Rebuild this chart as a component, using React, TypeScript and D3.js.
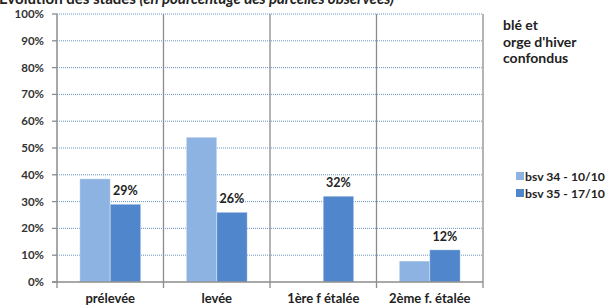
import React from "react";
import * as d3 from "d3";

const categories = ["prélevée", "levée", "1ère f étalée", "2ème f. étalée"];
const seriesNames = ["bsv 34 - 10/10", "bsv 35 - 17/10"];
const bsv34 = [38.5, 54, 0, 7.8];
const bsv35 = [29, 26, 32, 12];
const labels35 = ["29%", "26%", "32%", "12%"];
const yTicks = [0, 10, 20, 30, 40, 50, 60, 70, 80, 90, 100];
const noteLines = ["blé et", "orge d'hiver", "confondus"];
const colors = ["#8DB3E2", "#4F86CC"];

const W = 608, H = 306;
const font = "Lato, 'Open Sans', sans-serif";

export default function App() {
  const x0 = d3.scaleBand<string>().domain(categories).range([57, 483]).paddingInner(0).paddingOuter(0);
  const x1 = d3.scaleBand<number>().domain([0, 1]).range([0, x0.bandwidth()]).paddingInner(0).paddingOuter(0.75);
  const y = d3.scaleLinear().domain([0, 100]).range([282, 14]);
  const series = [bsv34, bsv35];
  return (
    <svg width={W} height={H} style={{ position: "absolute", left: 0, top: 0, background: "#fff" }} fontFamily={font}>
      <text x={-1} y={4} fontSize={14.5} fontWeight="bold" fill="#222" textLength={395} lengthAdjust="spacingAndGlyphs">
        Evolution des stades <tspan fontStyle="italic">(en pourcentage des parcelles observées)</tspan>
      </text>
      {/* gridlines */}
      {yTicks.filter(t => t > 0).map(t => (
        <line key={"g" + t} x1={57} x2={483} y1={y(t)} y2={y(t)} stroke="#4F81BD" strokeWidth={1} strokeDasharray="1,1" opacity={0.85} />
      ))}
      {/* category separators */}
      {categories.map((c, i) => i > 0 ? (
        <line key={"s" + c} x1={x0(c)!} x2={x0(c)!} y1={y(100)} y2={288} stroke="#8c8c8c" strokeWidth={1.3} />
      ) : null)}
      <line x1={483} x2={483} y1={y(100)} y2={288} stroke="#8c8c8c" strokeWidth={1.3} />
      {/* bars */}
      {categories.map((c, i) => series.map((s, k) => s[i] > 0 ? (
        <rect key={c + k} x={x0(c)! + x1(k)!} y={y(s[i])} width={x1.bandwidth()} height={y(0) - y(s[i])}
          fill={colors[k]} stroke="#ffffff" strokeOpacity={0.35} strokeWidth={1} />
      ) : null))}
      {/* labels */}
      {categories.map((c, i) => (
        <text key={"l" + c} x={x0(c)! + x1(1)! + x1.bandwidth() / 2} y={y(bsv35[i]) - 9} textAnchor="middle"
          fontSize={12.5} fontWeight="bold" fill="#222">{labels35[i]}</text>
      ))}
      {/* axes */}
      <line x1={57} x2={57} y1={y(100)} y2={y(0)} stroke="#8c8c8c" strokeWidth={1.5} />
      <line x1={52} x2={483} y1={y(0)} y2={y(0)} stroke="#8c8c8c" strokeWidth={1.5} />
      <line x1={57} x2={57} y1={y(0)} y2={288} stroke="#8c8c8c" strokeWidth={1.3} />
      {yTicks.map(t => (
        <g key={"t" + t}>
          <line x1={52} x2={57} y1={y(t)} y2={y(t)} stroke="#8c8c8c" strokeWidth={1.3} />
          <text x={44} y={y(t) + 4} textAnchor="end" fontSize={11.5} fontWeight="bold" fill="#333">{t}%</text>
        </g>
      ))}
      {categories.map(c => (
        <text key={"c" + c} x={x0(c)! + x0.bandwidth() / 2} y={303} textAnchor="middle" fontSize={13} fontWeight="bold" fill="#222">{c}</text>
      ))}
      {/* note */}
      {noteLines.map((l, i) => (
        <text key={"n" + i} x={503} y={30 + i * 16.5} fontSize={14} fontWeight="bold" fill="#222">{l}</text>
      ))}
      {/* legend */}
      {seriesNames.map((n, k) => (
        <g key={"lg" + k}>
          <rect x={516} y={172 + k * 17} width={8} height={8} fill={colors[k]} />
          <text x={525} y={180.5 + k * 17} fontSize={12.2} fontWeight="bold" fill="#222">{n}</text>
        </g>
      ))}
    </svg>
  );
}
